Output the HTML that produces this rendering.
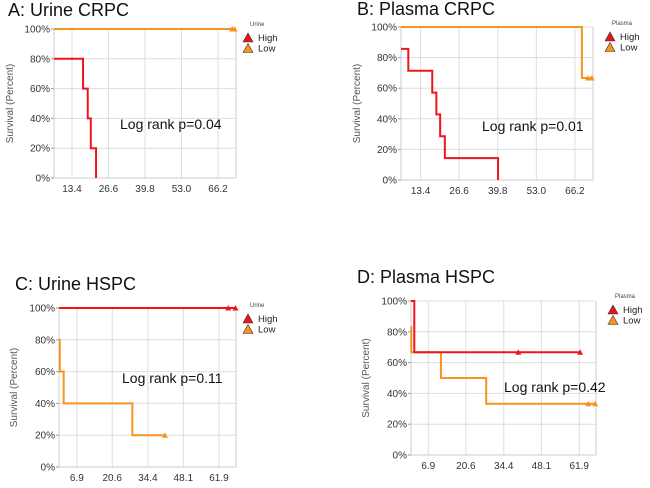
<!DOCTYPE html>
<html><head><meta charset="utf-8"><style>
body{margin:0;background:#fff;width:650px;height:488px;overflow:hidden}
svg{display:block}
text{font-family:"Liberation Sans",sans-serif}
</style></head><body>
<svg id="c" width="650" height="488"></svg>
<script>
// Panel A: Urine CRPC
const aTicks=[13.4,26.6,39.8,53.0,66.2];
const aHighT=[6.9,17.4,19.1,20.2,22.1];
const aHighS=[80,60,40,20,0];
const aLowT=[6.9];
const aLowS=[100];
const aHighCens=[];
const aLowCens=[71.3,72.2];
// Panel B: Plasma CRPC
const bTicks=[13.4,26.6,39.8,53.0,66.2];
const bHighT=[6.7,9.2,17.4,18.8,20.1,21.7,39.9];
const bHighS=[85.7,71.4,57.1,42.9,28.6,14.3,0];
const bLowT=[6.7,68.6];
const bLowS=[100,66.7];
const bHighCens=[];
const bLowCens=[70.7,72.0];
// Panel C: Urine HSPC
const cTicks=[6.9,20.6,34.4,48.1,61.9];
const cHighT=[0];
const cHighS=[100];
const cLowT=[0,0.3,1.8,28.4];
const cLowS=[80,60,40,20];
const cHighCens=[65.5,68.3];
const cLowCens=[41];
// Panel D: Plasma HSPC
const dTicks=[6.9,20.6,34.4,48.1,61.9];
const dHighT=[0.6,1.8];
const dHighS=[100,66.7];
const dLowT=[0.6,0.7,11.5,28.0];
const dLowS=[83.3,66.7,50,33.3];
const dHighCens=[39.7,62.2];
const dLowCens=[65.2,67.7];
const yTicks=[0,20,40,60,80,100];

const svg=document.getElementById('c');
const NS='http://www.w3.org/2000/svg';
function mk(tag,attrs,parent){const e=document.createElementNS(NS,tag);for(const k in attrs)e.setAttribute(k,attrs[k]);(parent||svg).appendChild(e);return e;}

function panel(p){
  const g=mk('g',{});
  
  
  const X=v=>p.L+(v-p.x0)/(p.x1-p.x0)*(p.R-p.L);
  const Y=s=>p.B-s/100*(p.B-p.T);
  const t=mk('text',{x:p.tx,y:p.ty,'font-size':18,fill:'#111','font-family':'Calibri,"Liberation Sans",sans-serif'},g);
  t.textContent=p.title;
  
  
  yTicks.forEach(v=>{
    mk('line',{x1:p.L,x2:p.R,y1:Y(v),y2:Y(v),stroke:'#ddd','stroke-width':1},g);
    mk('line',{x1:p.L-3,x2:p.L,y1:Y(v),y2:Y(v),stroke:'#999','stroke-width':1},g);
    const l=mk('text',{x:p.L-4,y:Y(v)+3.5,'font-size':10,'text-anchor':'end',fill:'#333'},g);
    l.textContent=v+'%';
    
    
  });
  p.ticks.forEach(v=>{
    mk('line',{x1:X(v),x2:X(v),y1:p.T,y2:p.B,stroke:'#ddd','stroke-width':1},g);
    const l=mk('text',{x:X(v),y:p.B+14,'font-size':10,'text-anchor':'middle',fill:'#333'},g);
    l.textContent=v.toFixed(1);
    
    
  });
  mk('line',{x1:p.L,x2:p.L,y1:p.T,y2:p.B,stroke:'#ccc'},g);
  mk('line',{x1:p.R,x2:p.R,y1:p.T,y2:p.B,stroke:'#ccc'},g);
  mk('line',{x1:p.L,x2:p.R,y1:p.B,y2:p.B,stroke:'#ccc'},g);
  const yl=mk('text',{x:0,y:0,'font-size':10,'text-anchor':'middle',fill:'#555',transform:`translate(${p.yl},${(p.T+p.B)/2}) rotate(-90)`},g);
  yl.textContent='Survival (Percent)';
  
  
  function curve(T,S,cens,col,name){
    let d='';
    for(let i=0;i<T.length;i++){
      const x=X(T[i]),y=Y(S[i]);
      d+=(i==0?'M':'L')+x+','+y+' ';
      const xe=i<T.length-1?X(T[i+1]):(S[i]==0?x:X(Math.max(...cens,T[i])));
      d+='L'+xe+','+y+' ';
      if(i<T.length-1) d+='L'+xe+','+Y(S[i+1])+' ';
    }
    const path=mk('path',{d:d,fill:'none',stroke:col,'stroke-width':2},g);
    
    
    cens.forEach(c=>{
      let s=S[0];for(let i=0;i<T.length;i++)if(T[i]<=c)s=S[i];
      const x=X(c),y=Y(s);
      const m=mk('path',{d:`M${x-3},${y+2.5}L${x},${y-3}L${x+3},${y+2.5}Z`,fill:col},g);
      
      
    });
  }
  curve(p.lowT,p.lowS,p.lowC,'#f7931e','low');
  curve(p.highT,p.highS,p.highC,'#f0141e','high');
  const lr=mk('text',{x:p.lx,y:p.ly,'font-size':14,fill:'#111','font-family':'Calibri,"Liberation Sans",sans-serif'},g);
  lr.textContent=p.lr;
  
  
  const lg=mk('g',{},g);
  
  
  const lt=mk('text',{x:p.gx+7,y:p.gy,'font-size':6,fill:'#444'},lg);
  lt.textContent=p.gt;
  [['High','#e8141c'],['Low','#f7931e']].forEach((e,i)=>{
    const y=p.gy+12+i*10.5;
    mk('path',{d:`M${p.gx},${y+4}L${p.gx+5},${y-5}L${p.gx+10},${y+4}Z`,fill:e[1],stroke:'#333','stroke-width':0.6},lg);
    const tx=mk('text',{x:p.gx+15,y:y+3,'font-size':9.5,fill:'#222'},lg);
    tx.textContent=e[0];
    
    
  });
}
panel({id:'a',title:'A: Urine CRPC',tx:8,ty:16,L:54,R:236,T:29,B:178,x0:6.9,x1:72.7,ticks:aTicks,yl:13,
  highT:aHighT,highS:aHighS,highC:aHighCens,lowT:aLowT,lowS:aLowS,lowC:aLowCens,
  lr:'Log rank p=0.04',lx:120,ly:129,gx:243,gy:26,gt:'Urine'});
panel({id:'b',title:'B: Plasma CRPC',tx:357,ty:15,L:401,R:593,T:27,B:180,x0:6.7,x1:72.4,ticks:bTicks,yl:360,
  highT:bHighT,highS:bHighS,highC:bHighCens,lowT:bLowT,lowS:bLowS,lowC:bLowCens,
  lr:'Log rank p=0.01',lx:482,ly:131,gx:605,gy:25,gt:'Plasma'});
panel({id:'c',title:'C: Urine HSPC',tx:15,ty:290,L:59,R:236,T:308,B:467,x0:0,x1:68.5,ticks:cTicks,yl:17,
  highT:cHighT,highS:cHighS,highC:cHighCens,lowT:cLowT,lowS:cLowS,lowC:cLowCens,
  lr:'Log rank p=0.11',lx:122,ly:383,gx:243,gy:307,gt:'Urine'});
panel({id:'d',title:'D: Plasma HSPC',tx:357,ty:283,L:411,R:596,T:301,B:455,x0:0.6,x1:68.0,ticks:dTicks,yl:369,
  highT:dHighT,highS:dHighS,highC:dHighCens,lowT:dLowT,lowS:dLowS,lowC:dLowCens,
  lr:'Log rank p=0.42',lx:504,ly:392,gx:608,gy:298,gt:'Plasma'});
</script>
</body></html>
